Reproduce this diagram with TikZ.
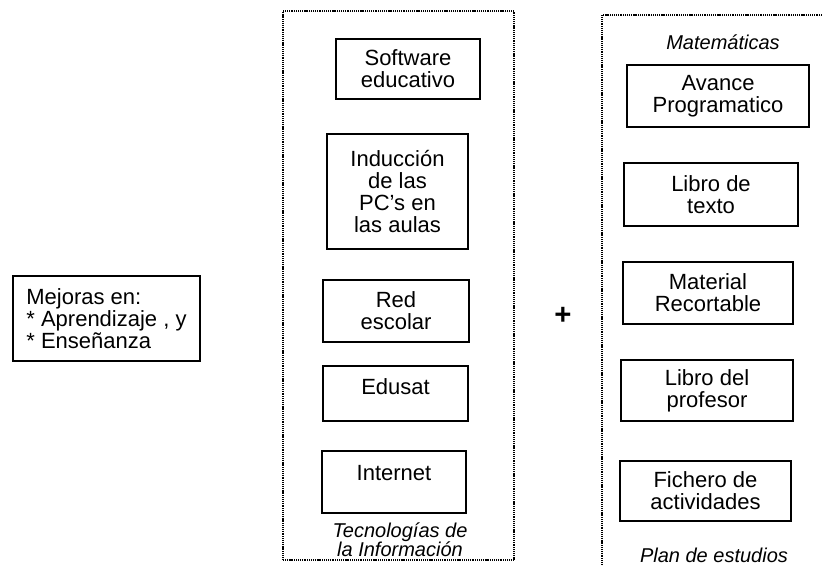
\documentclass[tikz,border=0pt]{standalone}
\usepackage{fontspec}
\setmainfont{Liberation Sans}
\begin{document}
\begin{tikzpicture}[x=0.75pt, y=-0.75pt, line width=1.2pt,
  item/.style={rectangle,draw,align=center,inner sep=0pt,font=\fontsize{16.5}{16.5}\selectfont},
  panel/.style={rectangle,draw,line width=1.4pt,dash pattern=on 0.8pt off 0.6pt,inner sep=0pt},
  panel label/.style={align=center,inner sep=0pt,font=\fontsize{15}{14.5}\selectfont\itshape}]
\useasboundingbox (0,0) rectangle (822,565);
% what is improved
\node [item,align=left,minimum width=140.25pt,minimum height=63.75pt](mejoras) at (106.5,318.5) {Mejoras en:\\* Aprendizaje , y\\* Enseñanza};
% tecnologias de la informacion
\node [panel,minimum width=173.25pt,minimum height=411.75pt](tic) at (398.5,285.5) {};
\begin{scope}[every node/.style={item}]
\node (soft) at (408,69) [minimum width=108pt,minimum height=45pt] {Software\\educativo};
\node (induc) at (397.5,191.5) [minimum width=105.75pt,minimum height=86.25pt] {Inducción\\de las\\PC's en\\las aulas};
\node (red) at (396,311) [minimum width=109.5pt,minimum height=46.5pt] {Red\\escolar};
\node (edusat) at (395.5,393.5) [minimum width=108.75pt,minimum height=41.25pt] {Edusat\rule[-9.8pt]{0pt}{0pt}};
\node (internet) at (394,482) [minimum width=108pt,minimum height=46.5pt] {Internet\rule[-13.5pt]{0pt}{0pt}};
\end{scope}
\node [panel label](ticlabel) at (400,540) {Tecnologías de\\la Información};
\node [font=\fontsize{22}{22}\selectfont\bfseries](plus) at (563,316) {+};
% plan de estudios
\begin{scope}
\clip (0,0) rectangle (822,565);
\node [panel,minimum width=171pt,minimum height=423.75pt](plan) at (716,297.5) {};
\end{scope}
\node [panel label](mate) at (723,42) {Matemáticas};
\begin{scope}[every node/.style={item}]
\node (avance) at (718,96) [minimum width=136.5pt,minimum height=46.5pt] {Avance\\Programatico};
\node (librotexto) at (711,194.5) [minimum width=130.5pt,minimum height=47.25pt] {Libro de\\texto};
\node (material) at (708,293) [minimum width=127.5pt,minimum height=46.5pt] {Material\\Recortable};
\node (libroprof) at (707,390.5) [minimum width=129pt,minimum height=45.75pt] {Libro del\\profesor};
\node (fichero) at (705.5,491) [minimum width=128.25pt,minimum height=45pt] {Fichero de\\actividades};
\end{scope}
\node [panel label](planlabel) at (714,555) {Plan de estudios};
\end{tikzpicture}
\end{document}
